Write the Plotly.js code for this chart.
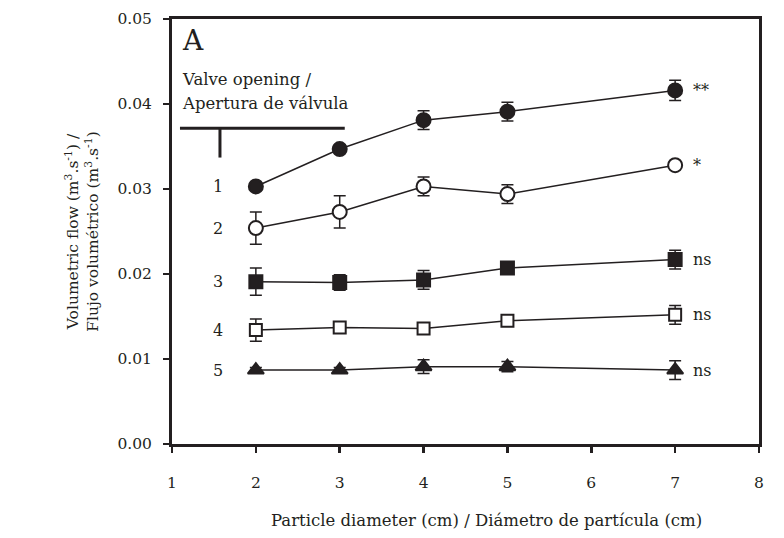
<!DOCTYPE html>
<html>
<head>
<meta charset="utf-8">
<script src="https://cdn.plot.ly/plotly-3.0.1.min.js"></script>
<style>html,body{margin:0;padding:0;background:#fff;}#chart{width:784px;height:538px;}</style>
</head>
<body>
<div id="chart"></div>
<script>
// Particle diameter (cm)
const diameters = [2, 3, 4, 5, 7];

// Valve opening 1..5 : mean volumetric flow (m3/s)
const valve1 = [0.0303, 0.0347, 0.0381, 0.0391, 0.0416];
const valve1Err = [0.0003, 0.0005, 0.0011, 0.0011, 0.0012];
const valve2 = [0.0254, 0.0273, 0.0303, 0.0294, 0.0328];
const valve2Err = [0.0019, 0.0019, 0.0011, 0.0011, 0.0003];
const valve3 = [0.0191, 0.0190, 0.0193, 0.0207, 0.0217];
const valve3Err = [0.0016, 0.0009, 0.0011, 0.0003, 0.0011];
const valve4 = [0.0134, 0.0137, 0.0136, 0.0145, 0.0152];
const valve4Err = [0.0013, 0.0003, 0.0003, 0.0003, 0.0011];
const valve5 = [0.0087, 0.0087, 0.0091, 0.0091, 0.0087];
const valve5Err = [0.0003, 0.0003, 0.0008, 0.0006, 0.0011];

const valveLabels = ["1", "2", "3", "4", "5"];
const significance = ["**", "*", "ns", "ns", "ns"];
const xTicks = [1, 2, 3, 4, 5, 6, 7, 8];
const yTicks = [0, 0.01, 0.02, 0.03, 0.04, 0.05];
const xTitle = "Particle diameter (cm) / Diámetro de partícula (cm)";

const ink = "#231f20";
const font = "DejaVu Serif, Liberation Serif, serif";

const series = [
  {y: valve1, e: valve1Err, symbol: "circle", fill: ink, size: 14},
  {y: valve2, e: valve2Err, symbol: "circle", fill: "#ffffff", size: 14},
  {y: valve3, e: valve3Err, symbol: "square", fill: ink, size: 13},
  {y: valve4, e: valve4Err, symbol: "square", fill: "#ffffff", size: 12},
  {y: valve5, e: valve5Err, symbol: "triangle-up", fill: ink, size: 14}
];

const traces = series.map((s, i) => ({
  x: diameters,
  y: s.y,
  type: "scatter",
  mode: "lines+markers",
  name: valveLabels[i],
  line: {color: ink, width: 1.5},
  marker: {symbol: s.symbol, size: s.size, color: s.fill, line: {color: ink, width: 2}},
  error_y: {type: "data", array: s.e, visible: true, color: ink, thickness: 1.5, width: 6},
  showlegend: false,
  hoverinfo: "x+y"
}));

const annotations = [];
series.forEach((s, i) => {
  annotations.push({
    x: 1.55, y: s.y[0], xref: "x", yref: "y", text: valveLabels[i],
    showarrow: false, font: {family: font, size: 16, color: ink}
  });
  annotations.push({
    x: diameters[diameters.length - 1], y: s.y[s.y.length - 1], xref: "x", yref: "y",
    text: significance[i], showarrow: false, xanchor: "left", xshift: 16,
    font: {family: font, size: 16, color: ink}
  });
});
annotations.push({
  x: 1.09, y: 0.0429, xref: "x", yref: "y", text: "Valve opening /",
  showarrow: false, xanchor: "left", font: {family: font, size: 16.5, color: ink}
});
annotations.push({
  x: 1.09, y: 0.0401, xref: "x", yref: "y", text: "Apertura de válvula",
  showarrow: false, xanchor: "left", font: {family: font, size: 16.5, color: ink}
});
annotations.push({
  x: 1.1, y: 0.0475, xref: "x", yref: "y", text: "A",
  showarrow: false, xanchor: "left", font: {family: font, size: 28, color: ink}
});
annotations.push({
  x: 0.535, y: -0.181, xref: "paper", yref: "paper", text: xTitle,
  showarrow: false, xanchor: "center", yanchor: "middle",
  font: {family: font, size: 16.5, color: ink}
});

const layout = {
  width: 784, height: 538,
  margin: {l: 172, r: 25, t: 19, b: 94},
  paper_bgcolor: "#ffffff", plot_bgcolor: "#ffffff",
  font: {family: font, color: ink, size: 15},
  xaxis: {
    range: [1, 8], tickvals: xTicks, ticktext: xTicks.map(String),
    showgrid: false, zeroline: false, showline: true, mirror: true,
    linecolor: ink, linewidth: 3, ticks: "outside", ticklen: 6, tickwidth: 2.5, tickcolor: ink,
    ticklabelstandoff: 16,
    tickfont: {family: font, size: 15.5, color: ink}
  },
  yaxis: {
    range: [0, 0.05], tickvals: yTicks, ticktext: yTicks.map(v => v.toFixed(2)),
    showgrid: false, zeroline: false, showline: true, mirror: true,
    linecolor: ink, linewidth: 3, ticks: "outside", ticklen: 6, tickwidth: 2.5, tickcolor: ink,
    ticklabelstandoff: 8,
    tickfont: {family: font, size: 15.5, color: ink},
    title: {text: "Volumetric flow (m<sup>3</sup>.s<sup>-1</sup>) /<br>Flujo volumétrico (m<sup>3</sup>.s<sup>-1</sup>)",
            standoff: 15, font: {family: font, size: 15.5, color: ink}}
  },
  shapes: [
    {type: "line", xref: "x", yref: "y", x0: 1.095, x1: 3.06, y0: 0.03715, y1: 0.03715,
     line: {color: ink, width: 3}},
    {type: "line", xref: "x", yref: "y", x0: 1.572, x1: 1.572, y0: 0.03715, y1: 0.0337,
     line: {color: ink, width: 3}}
  ],
  annotations: annotations
};

Plotly.newPlot("chart", traces, layout, {displayModeBar: false, staticPlot: true});
</script>
</body>
</html>
